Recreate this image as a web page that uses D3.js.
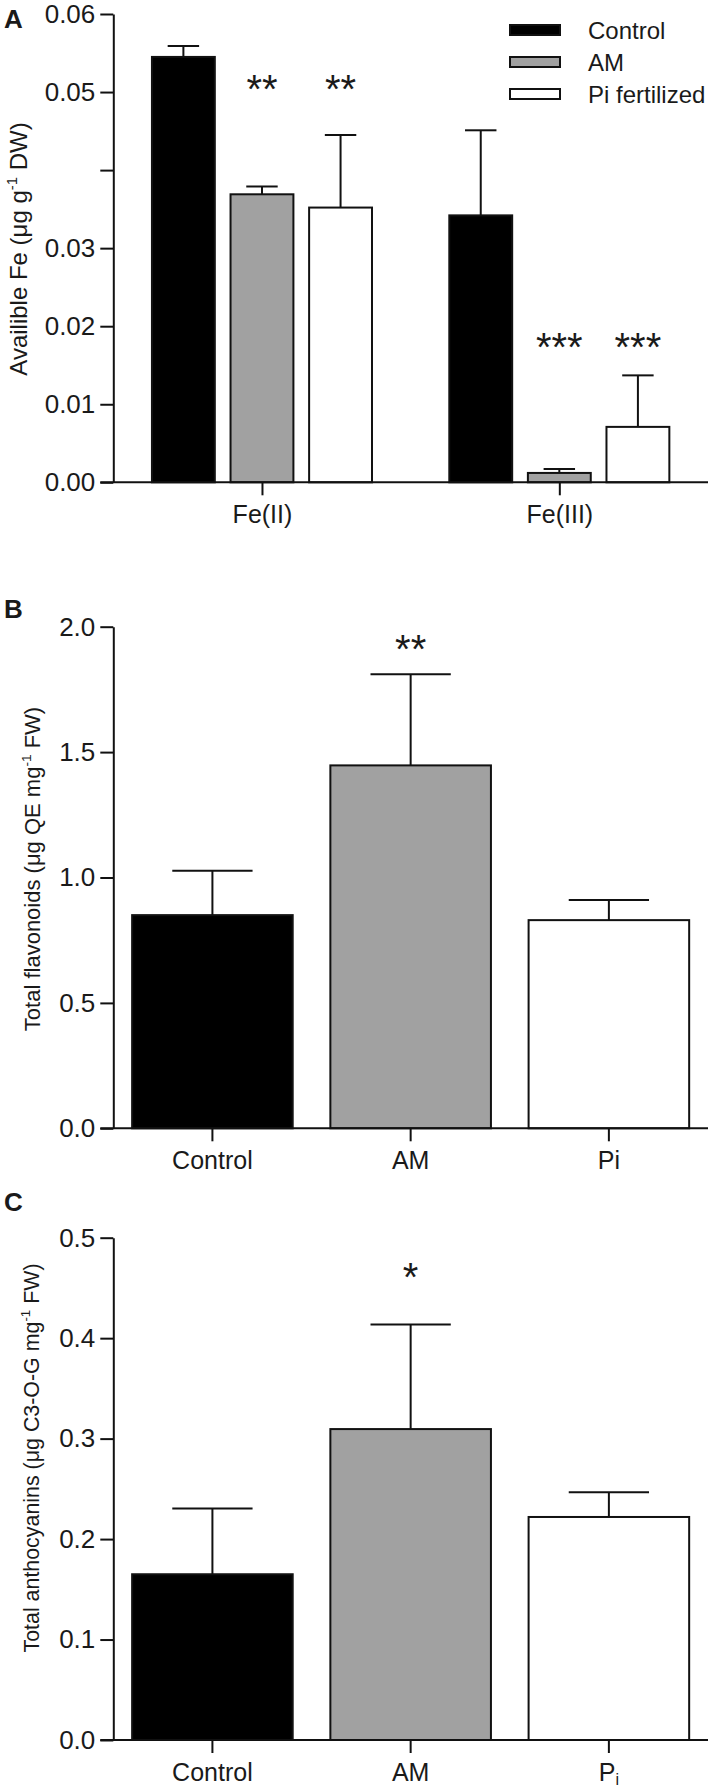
<!DOCTYPE html>
<html><head><meta charset="utf-8">
<script src="https://cdn.jsdelivr.net/npm/d3@7"></script>
<style>
body{margin:0;background:#fff}
text{font-family:"Liberation Sans",Arial,Helvetica,sans-serif;fill:#1a1a1a}
</style>
</head><body><svg id="c" width="713" height="1787"></svg>
<script>
// ---------- Panel A data ----------
const feGroups = ["Fe(II)", "Fe(III)"];
const feSeries = ["Control", "AM", "Pi fertilized"];
const feMeanII = [0.0545, 0.0369, 0.0352];
const feErrII = [0.0014, 0.0010, 0.0093];
const feMeanIII = [0.0342, 0.0012, 0.0071];
const feErrIII = [0.0109, 0.0005, 0.0066];
const feSigII = ["", "**", "**"];
const feSigIII = ["", "***", "***"];
const feTicks = [0, 0.01, 0.02, 0.03, 0.04, 0.05, 0.06];
const feTickLabels = ["0.00", "0.01", "0.02", "0.03", "", "0.05", "0.06"];

// ---------- Panel B data ----------
const treatments = ["Control", "AM", "Pi"];
const flavMean = [0.85, 1.447, 0.83];
const flavErr = [0.177, 0.363, 0.08];
const flavSig = ["", "**", ""];
const flavTicks = [0, 0.5, 1.0, 1.5, 2.0];
const flavTickLabels = ["0.0", "0.5", "1.0", "1.5", "2.0"];

// ---------- Panel C data ----------
const anthMean = [0.165, 0.3095, 0.222];
const anthErr = [0.0655, 0.104, 0.0245];
const anthSig = ["", "*", ""];
const anthTicks = [0, 0.1, 0.2, 0.3, 0.4, 0.5];
const anthTickLabels = ["0.0", "0.1", "0.2", "0.3", "0.4", "0.5"];

const fills = ["#000000", "#a1a1a1", "#ffffff"];

const svg = d3.select("#c");
const X0 = 113.3, X1 = 708;
const TICK_FS = 26, LAB_FS = 25;

function yAxis(y, ticks, labels) {
  const g = svg.append("g").attr("transform", `translate(${X0},0)`)
    .call(d3.axisLeft(y).tickValues(ticks).tickFormat((d, i) => labels[i])
      .tickSize(13).tickPadding(5).tickSizeOuter(0));
  g.selectAll("path,line").attr("stroke", "#111").attr("stroke-width", 2);
  g.selectAll("text").attr("font-size", TICK_FS).attr("fill", "#1a1a1a")
    .attr("font-family", '"Liberation Sans",Arial,sans-serif');
}
function xAxis(x, y0, labelFmt) {
  const g = svg.append("g").attr("transform", `translate(0,${y0})`)
    .call(d3.axisBottom(x).tickSize(13).tickPadding(10).tickSizeOuter(0));
  g.select("path.domain").attr("d", `M${X0 - 13},0H${X1}`);
  g.selectAll("path,line").attr("stroke", "#111").attr("stroke-width", 2);
  g.selectAll("text").attr("font-size", LAB_FS).attr("fill", "#1a1a1a")
    .attr("font-family", '"Liberation Sans",Arial,sans-serif');
  if (labelFmt) g.selectAll(".tick text").each(labelFmt);
}
function bars(cx, bw, y, means, errs, sigs, sigY, sigFs) {
  means.forEach((m, i) => {
    const xl = cx[i] - bw / 2;
    svg.append("line").attr("x1", cx[i]).attr("x2", cx[i])
      .attr("y1", y(m)).attr("y2", y(m + errs[i])).attr("stroke", "#111").attr("stroke-width", 2);
    svg.append("line").attr("x1", cx[i] - bw / 4).attr("x2", cx[i] + bw / 4)
      .attr("y1", y(m + errs[i])).attr("y2", y(m + errs[i])).attr("stroke", "#111").attr("stroke-width", 2);
    svg.append("rect").attr("x", xl).attr("width", bw)
      .attr("y", y(m)).attr("height", y(0) - y(m))
      .attr("fill", fills[i]).attr("stroke", "#111").attr("stroke-width", 2);
    if (sigs[i]) {
      svg.append("text").attr("x", cx[i]).attr("y", sigY[i] + 0.57 * sigFs)
        .attr("text-anchor", "middle").attr("font-size", sigFs).text(sigs[i]);
    }
  });
}
function yLabel(cx, cy, fs, parts) {
  const t = svg.append("text").attr("transform", `translate(${cx},${cy}) rotate(-90)`)
    .attr("text-anchor", "middle").attr("font-size", fs);
  parts.forEach(p => {
    const s = t.append("tspan").text(p[0]);
    if (p[1] === "sup") s.attr("font-size", fs * 0.62).attr("dy", -fs * 0.42);
    if (p[1] === "back") s.attr("dy", fs * 0.42);
  });
}
function panelLetter(x, y, s) {
  svg.append("text").attr("x", x).attr("y", y).attr("font-size", 26)
    .attr("font-weight", "bold").attr("fill", "#000").text(s);
}

// ================= Panel A =================
{
  const y = d3.scaleLinear().domain([0, 0.06]).range([482.3, 14]);
  const xg = d3.scaleBand().domain(feGroups).range([X0, X1]).paddingInner(0.26).paddingOuter(0.13);
  const xs = d3.scaleBand().domain(feSeries).range([0, xg.bandwidth()]).paddingInner(0.2).paddingOuter(0);
  const bw = xs.bandwidth();
  const cxII = feSeries.map(s => xg("Fe(II)") + xs(s) + bw / 2);
  const cxIII = feSeries.map(s => xg("Fe(III)") + xs(s) + bw / 2);
  bars(cxII, bw, y, feMeanII, feErrII, feSigII, [0, 80, 80], 40);
  bars(cxIII, bw, y, feMeanIII, feErrIII, feSigIII, [0, 338, 338], 40);
  yAxis(y, feTicks, feTickLabels);
  const xp = d3.scalePoint().domain(feGroups).range([xg("Fe(II)") + xg.bandwidth() / 2, xg("Fe(III)") + xg.bandwidth() / 2]);
  xAxis(xp, 482.3);
  yLabel(27, 249, 24, [["Availible Fe (μg g"], ["-1", "sup"], [" DW)", "back"]]);
  panelLetter(4, 28, "A");
  // legend
  feSeries.forEach((s, i) => {
    const cy = 30 + i * 32;
    svg.append("rect").attr("x", 510).attr("y", cy - 5).attr("width", 50).attr("height", 10)
      .attr("fill", fills[i]).attr("stroke", "#111").attr("stroke-width", 2);
    svg.append("text").attr("x", 588).attr("y", cy + 9).attr("font-size", 24).text(s);
  });
}

// ================= Panel B =================
{
  const y = d3.scaleLinear().domain([0, 2.0]).range([1128.3, 626.7]);
  const x = d3.scaleBand().domain(treatments).range([X0, X1]).paddingInner(0.19).paddingOuter(0.095);
  const bw = x.bandwidth();
  const cx = treatments.map(t => x(t) + bw / 2);
  bars(cx, bw, y, flavMean, flavErr, flavSig, [0, 640, 0], 40);
  yAxis(y, flavTicks, flavTickLabels);
  xAxis(x, 1128.3);
  yLabel(40, 869, 22, [["Total flavonoids (μg QE mg"], ["-1", "sup"], [" FW)", "back"]]);
  panelLetter(4, 618, "B");
}

// ================= Panel C =================
{
  const y = d3.scaleLinear().domain([0, 0.5]).range([1740, 1237.7]);
  const x = d3.scaleBand().domain(treatments).range([X0, X1]).paddingInner(0.19).paddingOuter(0.095);
  const bw = x.bandwidth();
  const cx = treatments.map(t => x(t) + bw / 2);
  bars(cx, bw, y, anthMean, anthErr, anthSig, [0, 1268, 0], 40);
  yAxis(y, anthTicks, anthTickLabels);
  xAxis(x, 1740, function (d) {
    if (d === "Pi") {
      const t = d3.select(this).text("P");
      t.append("tspan").attr("font-size", 16).attr("dy", 4).text("i");
    }
  });
  yLabel(39, 1458, 21.4, [["Total anthocyanins (μg C3-O-G mg"], ["-1", "sup"], [" FW)", "back"]]);
  panelLetter(4, 1211, "C");
}
</script>
</body></html>
